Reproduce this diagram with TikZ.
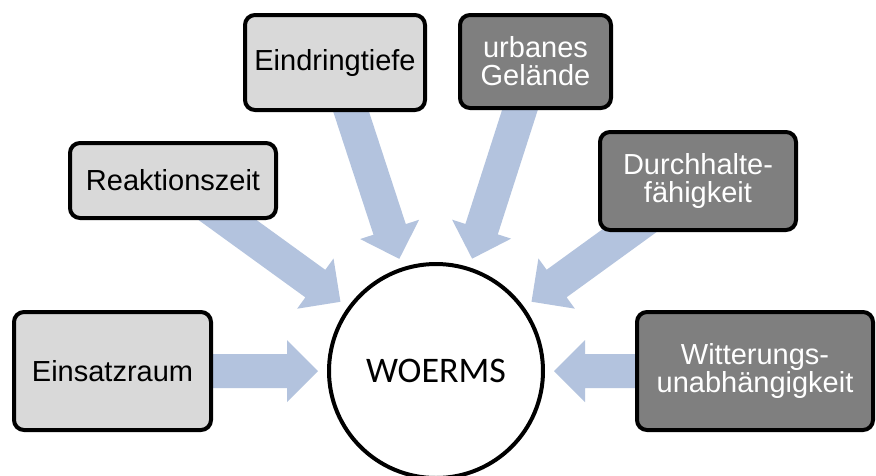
\documentclass[tikz,border=0pt]{standalone}
\usepackage{fontspec}
\setmainfont{Liberation Sans}
\newfontfamily\calibrifont{Carlito}
\usetikzlibrary{calc}
\definecolor{arrowc}{HTML}{B3C3DE}
\definecolor{lightbox}{HTML}{D9D9D9}
\definecolor{darkbox}{HTML}{7F7F7F}
\tikzset{
  box/.style={draw=black, line width=4pt, rounded corners=10pt, align=center,
    font=\fontsize{29}{28}\selectfont, inner sep=0pt},
  lightstyle/.style={box, fill=lightbox, text=black},
  darkstyle/.style={box, fill=darkbox, text=white},
  hub/.style={circle, draw=black, line width=4pt, fill=white, minimum size=214pt,
    inner sep=0pt, font=\calibrifont\fontsize{36}{36}\selectfont}
}
\newcommand\blockarrow[2]{%
  \coordinate (tipX) at ($(C)!118pt!(#1.center)$);
  \coordinate (headX) at ($(tipX)!31pt!(#1.center)$);
  \fill[arrowc] ($(#1.center)!17pt!90:(tipX)$) -- ($(headX)!17pt!90:(tipX)$)
    -- ($(headX)!31pt!90:(tipX)$) -- (tipX) -- ($(headX)!31pt!-90:(tipX)$)
    -- ($(headX)!17pt!-90:(tipX)$) -- ($(#1.center)!17pt!-90:(tipX)$) -- cycle;
}
\begin{document}
\begin{tikzpicture}[x=1pt,y=-1pt]
\useasboundingbox[fill=white] (0,0) rectangle (876,475);
\begin{scope}
\clip (0,0) rectangle (876,475);
\coordinate (C) at (436,371);
% box anchor positions (no drawing yet)
\path (112.5,371) coordinate (p1);
\path (173,180.5) coordinate (p2);
\path (335,62.5) coordinate (p3);
\path (535.5,61.5) coordinate (p4);
\path (698,181) coordinate (p5);
\path (755,371) coordinate (p6);
\foreach \p in {p1,p2,p3,p4,p5,p6}{\blockarrow{\p}{C}}
\node[lightstyle, minimum width=197pt, minimum height=118pt] (b1) at (p1) {Einsatzraum};
\node[lightstyle, minimum width=206pt, minimum height=75pt] (b2) at (p2) {Reaktionszeit};
\node[lightstyle, minimum width=180pt, minimum height=95pt] (b3) at (p3) {Eindringtiefe};
\node[darkstyle, minimum width=151pt, minimum height=93pt] (b4) at (p4) {urbanes\\Gelände};
\node[darkstyle, minimum width=196pt, minimum height=98pt] (b5) at (p5) {Durchhalte-\\fähigkeit};
\node[darkstyle, minimum width=236pt, minimum height=118pt] (b6) at (p6) {Witterungs-\\unabhängigkeit};
\node[hub] (hub) at (C) {WOERMS};
\end{scope}
\end{tikzpicture}
\end{document}
